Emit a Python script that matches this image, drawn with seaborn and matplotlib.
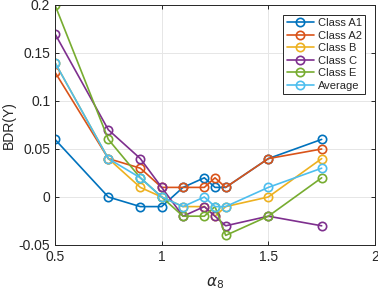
import matplotlib
matplotlib.use("Agg")
import matplotlib.pyplot as plt
import seaborn as sns
import pandas as pd

alpha = [0.5, 0.75, 0.9, 1.0, 1.1, 1.2, 1.25, 1.3, 1.5, 1.75]
class_a1 = [0.06, 0.00, -0.01, -0.01, 0.01, 0.02, 0.01, 0.01, 0.04, 0.06]
class_a2 = [0.13, 0.04, 0.03, 0.01, 0.01, 0.01, 0.02, 0.01, 0.04, 0.05]
class_b = [0.14, 0.04, 0.01, 0.00, -0.01, -0.01, -0.02, -0.01, 0.00, 0.04]
class_c = [0.17, 0.07, 0.04, 0.01, -0.02, -0.01, -0.02, -0.03, -0.02, -0.03]
class_e = [0.20, 0.06, 0.02, 0.00, -0.02, -0.02, -0.01, -0.04, -0.02, 0.02]
average = [0.14, 0.04, 0.02, 0.00, -0.01, 0.00, -0.01, -0.01, 0.01, 0.03]

series_names = ["Class A1", "Class A2", "Class B", "Class C", "Class E", "Average"]
series_values = [class_a1, class_a2, class_b, class_c, class_e, average]
colors = ["#0072BD", "#D95319", "#EDB120", "#7E2F8E", "#77AC30", "#4DBEEE"]

x_ticks = [0.5, 1, 1.5, 2]
x_tick_labels = ["0.5", "1", "1.5", "2"]
y_ticks = [-0.05, 0, 0.05, 0.1, 0.15, 0.2]
y_tick_labels = ["-0.05", "0", "0.05", "0.1", "0.15", "0.2"]

sns.set_style("white")
plt.rcParams["font.family"] = ["Liberation Sans", "DejaVu Sans"]

fig = plt.figure(figsize=(3.78, 2.95), dpi=100)
ax = fig.add_axes([55 / 378, 1 - 245 / 295, 320 / 378, 240 / 295])

for name, vals, col in zip(series_names, series_values, colors):
    df = pd.DataFrame({"alpha": alpha, "BDR": vals})
    sns.lineplot(data=df, x="alpha", y="BDR", ax=ax, color=col, label=name,
                 marker="o", markersize=6, markerfacecolor="none",
                 markeredgecolor=col, markeredgewidth=1.2, linewidth=1.2)

ax.set_xlim(0.5, 2)
ax.set_ylim(-0.05, 0.2)
ax.set_xticks(x_ticks)
ax.set_xticklabels(x_tick_labels)
ax.set_yticks(y_ticks)
ax.set_yticklabels(y_tick_labels)
ax.grid(True, color="#e6e6e6", linewidth=0.7)
ax.set_axisbelow(True)
for s in ax.spines.values():
    s.set_color("#262626")
    s.set_linewidth(0.7)
ax.tick_params(direction="in", length=3, width=0.7, colors="#262626",
               labelsize=10, top=True, right=True, labeltop=False, labelright=False,
               bottom=True, left=True)
ax.set_xlabel(r"$\alpha_8$", fontsize=11, color="#262626", labelpad=8)
ax.set_ylabel("BDR(Y)", fontsize=10, color="#262626", labelpad=2)

leg = ax.legend(loc="upper right", fontsize=8, frameon=True, fancybox=False,
                edgecolor="#262626", framealpha=1, borderpad=0.3,
                labelspacing=0.22, handlelength=2.5, handletextpad=0.3,
                borderaxespad=0.9)
leg.get_frame().set_linewidth(0.7)

fig.savefig("out.png", dpi=100)
